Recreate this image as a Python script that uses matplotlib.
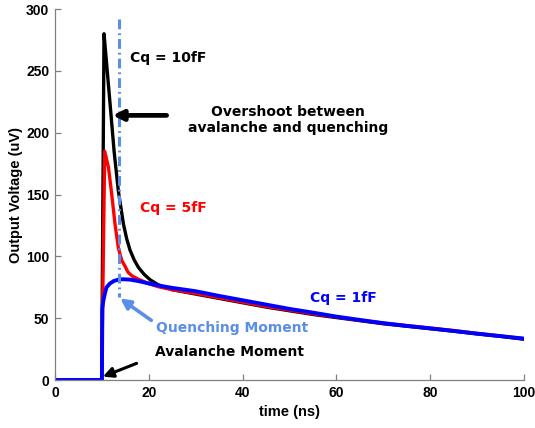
import matplotlib
matplotlib.use("Agg")
import matplotlib.pyplot as plt

# ---- data (time in ns, voltage in uV) ----
t_black = [0, 9.95, 10.45, 11.0, 11.5, 12.0, 12.6, 13.5, 14.6, 15.3, 16.0, 16.9, 17.8, 19.0, 20.3, 22, 25, 30, 35, 40, 45, 50, 55, 60, 65, 70, 75, 80, 85, 90, 95, 100]
v_black = [0, 0, 280, 256, 234, 212, 185, 153, 126, 114, 105, 97, 91, 85.5, 81, 77, 73, 69.5, 66, 62.5, 59, 56, 53, 50.5, 48, 45.5, 43.5, 41.5, 39.5, 37.3, 35.3, 33]

t_red = [0, 9.95, 10.6, 11.4, 12.1, 12.8, 13.5, 14.2, 15.0, 15.6, 16.5, 17.8, 19.9, 22, 25, 30, 35, 40, 45, 50, 55, 60, 65, 70, 75, 80, 85, 90, 95, 100]
v_red = [0, 0, 185, 172, 150, 126, 107, 97, 91.5, 87, 84, 81.5, 78, 75.5, 73, 70, 66.5, 63, 59.5, 56.5, 53.5, 51, 48.3, 46, 44, 42, 40, 37.7, 35.6, 33.4]

t_blue = [0, 10.0, 10.1, 10.3, 10.7, 11.0, 11.7, 12.5, 13.5, 14.5, 16, 17.8, 19.9, 22.7, 25, 30, 35, 40, 45, 50, 55, 60, 65, 70, 75, 80, 85, 90, 95, 100]
v_blue = [0, 0, 58, 64, 71, 75, 78, 80, 81.2, 81.5, 81.2, 80, 78.2, 76, 74.5, 71.8, 68, 64.5, 61, 57.5, 54.5, 51.3, 48.6, 46, 43.8, 41.8, 39.7, 37.5, 35.5, 33.5]

quench_t = 13.7
quench_top = 292
quench_bottom = 67

labels = ["Cq = 10fF", "Cq = 5fF", "Cq = 1fF"]

xticks = [0, 20, 40, 60, 80, 100]
yticks = [0, 50, 100, 150, 200, 250, 300]

QBLUE = "#5b8ee6"

fig = plt.figure(figsize=(5.35, 4.28), dpi=100)
ax = fig.add_axes([0.1028, 0.1121, 0.8766, 0.8668])

ax.plot(t_black, v_black, color="black", lw=2.4, solid_joinstyle="round")
ax.plot(t_red, v_red, color="red", lw=2.4, solid_joinstyle="round")
ax.plot(t_blue, v_blue, color="blue", lw=2.8, solid_joinstyle="round")

ax.plot([quench_t, quench_t], [quench_top, quench_bottom], color=QBLUE, lw=2.2,
        ls=(0, (3.2, 1.3, 0.6, 1.3)))

ax.set_xlim(0, 100)
ax.set_ylim(0, 300)
ax.set_xticks(xticks)
ax.set_yticks(yticks)
for s in ["top", "right"]:
    ax.spines[s].set_visible(False)
for s in ["left", "bottom"]:
    ax.spines[s].set_color("#808080")
    ax.spines[s].set_linewidth(0.9)
ax.tick_params(direction="in", length=4, color="#808080", width=0.9,
               labelsize=10, pad=4)
for lab in ax.get_xticklabels() + ax.get_yticklabels():
    lab.set_fontfamily("Liberation Sans")
    lab.set_fontweight("bold")

ax.set_xlabel("time (ns)", fontsize=10.5, fontweight="bold", family="Liberation Sans", labelpad=4)
ax.set_ylabel("Output Voltage (uV)", fontsize=10.5, fontweight="bold", family="Liberation Sans", labelpad=2)

fs = 10
ax.text(16.0, 260, labels[0], color="black", fontsize=fs, fontweight="bold", va="center", ha="left")
ax.text(18.1, 139, labels[1], color="red", fontsize=fs, fontweight="bold", va="center", ha="left")
ax.text(54.4, 66, labels[2], color="blue", fontsize=fs, fontweight="bold", va="center", ha="left")

ax.text(49.7, 210.5, "Overshoot between\navalanche and quenching", ha="center", va="center",
        fontsize=fs, fontweight="bold", color="black")
ax.annotate("", xy=(12.3, 214), xytext=(23.8, 214),
            arrowprops=dict(arrowstyle="-|>,head_length=0.6,head_width=0.3", color="black", lw=3.4,
                            shrinkA=0, shrinkB=0))
ax.annotate("Quenching Moment", xy=(13.9, 66), xytext=(21.6, 42),
            ha="left", va="center", fontsize=fs, fontweight="bold", color=QBLUE,
            arrowprops=dict(arrowstyle="-|>,head_length=0.6,head_width=0.3", color=QBLUE, lw=2.6,
                            shrinkA=2, shrinkB=0, relpos=(0.0, 0.8)))
ax.annotate("Avalanche Moment", xy=(10.2, 2.7), xytext=(21.3, 22.7),
            ha="left", va="center", fontsize=fs, fontweight="bold", color="black",
            arrowprops=dict(arrowstyle="-|>,head_length=0.6,head_width=0.3", color="black", lw=2.2,
                            shrinkA=12, shrinkB=0, relpos=(0.0, 0.2)))

fig.savefig("out.png", dpi=100)
